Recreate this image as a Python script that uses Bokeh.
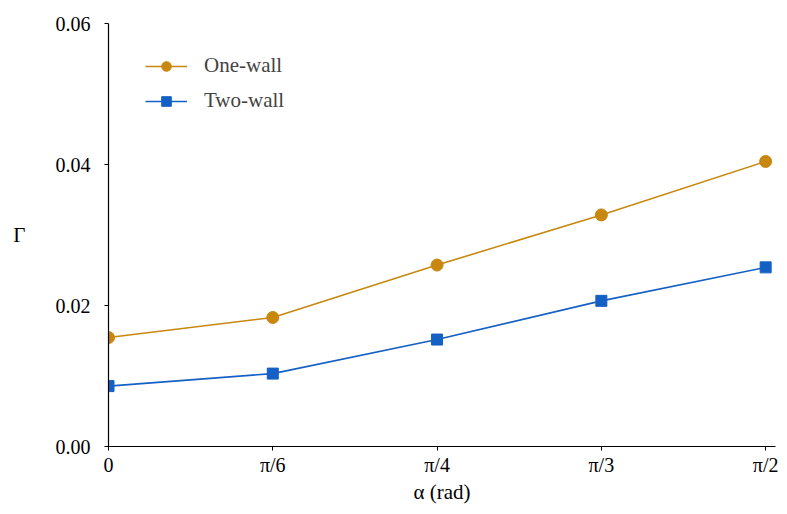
from bokeh.plotting import figure
from bokeh.models import Range1d, FixedTicker, Legend, LegendItem, NumeralTickFormatter
from bokeh.embed import file_html
from bokeh.resources import INLINE

x_pos = [0, 1, 2, 3, 4]
x_labels = ["0", "π/6", "π/4", "π/3", "π/2"]
one_wall = [0.01545, 0.0183, 0.02574, 0.03285, 0.04043]
two_wall = [0.00857, 0.01034, 0.01517, 0.02066, 0.02541]
y_ticks = [0.0, 0.02, 0.04, 0.06]

FONT = "Liberation Serif"
ORANGE = "#C8870E"
BLUE = "#1560C4"

p = figure(width=779, height=506, output_backend="svg", toolbar_location=None,
           x_range=Range1d(0, 4.06), y_range=Range1d(0, 0.06),
           min_border_left=108, min_border_right=4, min_border_top=23, min_border_bottom=60)
p.outline_line_color = None
p.grid.grid_line_color = None
p.background_fill_color = "white"

for ax in (p.xaxis[0], p.yaxis[0]):
    ax.axis_line_color = "black"
    ax.axis_line_width = 1.2
    ax.major_tick_line_color = "black"
    ax.major_tick_in = 0
    ax.major_tick_out = 4
    ax.minor_tick_line_color = None
    ax.major_label_text_font = FONT
    ax.major_label_text_font_size = "20px"
    ax.major_label_text_color = "black"
    ax.axis_label_text_font = FONT
    ax.axis_label_text_font_style = "normal"
    ax.axis_label_text_color = "black"

p.xaxis.ticker = FixedTicker(ticks=x_pos)
p.xaxis.major_label_overrides = {i: l for i, l in zip(x_pos, x_labels)}
p.xaxis.major_label_standoff = 3
p.xaxis.axis_label = "α (rad)"
p.xaxis.axis_label_text_font_size = "21px"
p.xaxis.axis_label_standoff = 1

p.yaxis.ticker = FixedTicker(ticks=y_ticks)
p.yaxis.formatter = NumeralTickFormatter(format="0.00")
p.yaxis.major_label_standoff = 14
p.yaxis.axis_label = "Γ"
p.yaxis.axis_label_orientation = "horizontal"
p.yaxis.axis_label_text_font_size = "21px"
p.yaxis.axis_label_standoff = 27

l1 = p.line(x_pos, one_wall, line_color=ORANGE, line_width=1.6)
c1 = p.scatter(x_pos, one_wall, marker="circle", size=12, fill_color=ORANGE, line_color=ORANGE)
l2 = p.line(x_pos, two_wall, line_color=BLUE, line_width=1.6)
c2 = p.scatter(x_pos, two_wall, marker="square", size=11, fill_color=BLUE, line_color=BLUE)

legend = Legend(items=[LegendItem(label="One-wall", renderers=[l1, c1]),
                       LegendItem(label="Two-wall", renderers=[l2, c2])],
                location=(37, 333), border_line_color=None, background_fill_alpha=0,
                padding=0, margin=0, spacing=10, glyph_width=42, glyph_height=24,
                label_height=24, label_standoff=17,
                label_text_font=FONT, label_text_font_size="21px")
p.add_layout(legend)

open("out.html", "w").write(file_html(p, INLINE))
